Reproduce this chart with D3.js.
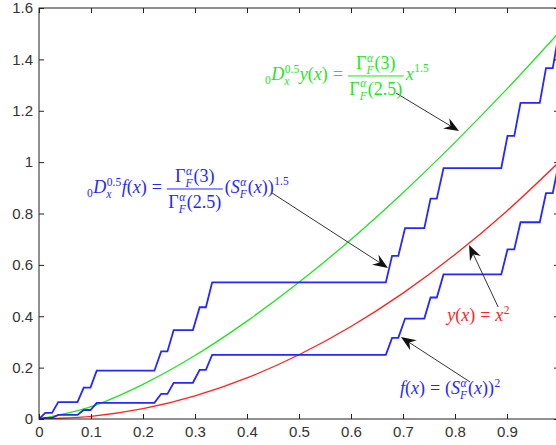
<!DOCTYPE html>
<html>
<head>
<meta charset="utf-8">
<script src="https://cdn.jsdelivr.net/npm/d3@7"></script>
<style>
  html, body { margin: 0; padding: 0; background: #fff; }
  svg { display: block; }
</style>
</head>
<body>
<svg id="chart" width="556" height="445"></svg>
<script>
// axis ticks (the label for x = 1 falls outside the picture)
const xTicks = [0, 0.1, 0.2, 0.3, 0.4, 0.5, 0.6, 0.7, 0.8, 0.9, 1];
const xTickLabels = ["0", "0.1", "0.2", "0.3", "0.4", "0.5", "0.6", "0.7", "0.8", "0.9", ""];
const yTicks = [0, 0.2, 0.4, 0.6, 0.8, 1, 1.2, 1.4, 1.6];
const yTickLabels = ["0", "0.2", "0.4", "0.6", "0.8", "1", "1.2", "1.4", "1.6"];

// smooth curves
const curveX = [0, 0.1, 0.2, 0.3, 0.4, 0.5, 0.6, 0.7, 0.8, 0.9, 1];
const redY = [0, 0.01, 0.04, 0.09, 0.16, 0.25, 0.36, 0.49, 0.64, 0.81, 1.0];
const greenY = [0, 0.048, 0.135, 0.247, 0.381, 0.532, 0.699, 0.881, 1.077, 1.285, 1.505];

// staircases: flat pieces (start, end) and their heights
const stepStart = [0.012, 0.037, 0.086, 0.111, 0.235, 0.259, 0.309, 0.333, 0.679, 0.704, 0.753, 0.778, 0.901, 0.926, 0.975];
const stepEnd   = [0.025, 0.074, 0.099, 0.222, 0.247, 0.296, 0.321, 0.667, 0.691, 0.741, 0.765, 0.889, 0.914, 0.963, 0.988];
const upperStepY = [0.024, 0.066, 0.122, 0.188, 0.263, 0.346, 0.435, 0.532, 0.635, 0.743, 0.858, 0.977, 1.102, 1.231, 1.366];
const lowerStepY = [0.004, 0.016, 0.035, 0.063, 0.098, 0.141, 0.191, 0.25, 0.316, 0.391, 0.473, 0.563, 0.66, 0.766, 0.879];
const upperEnd = 1.505;
const lowerEnd = 1.0;

// annotation arrows in data units
const arrows = [
  { from: [0.6865, 1.269], to: [0.8077, 1.121] },
  { from: [0.448, 0.880], to: [0.671, 0.588] },
  { from: [0.883, 0.436], to: [0.827, 0.677] },
  { from: [0.829, 0.144], to: [0.696, 0.319] },
];

const svg = d3.select("#chart");
const x = d3.scaleLinear().domain([0, 1]).range([39, 559]);
const y = d3.scaleLinear().domain([0, 1.6]).range([419, 8]);

const blue = "#2626ff";
const green = "#1ee61e";
const red = "#ff2222";
const ink = "#222";

svg.append("defs").append("clipPath").attr("id", "plot")
  .append("rect")
  .attr("x", x(0)).attr("y", y(1.6))
  .attr("width", x(1) - x(0)).attr("height", y(0) - y(1.6));

const plot = svg.append("g").attr("clip-path", "url(#plot)");

const line = d3.line().x((d) => x(d[0])).y((d) => y(d[1]));
const smooth = d3.line().x((d) => x(d[0])).y((d) => y(d[1])).curve(d3.curveMonotoneX);

plot.append("path")
  .attr("d", smooth(curveX.map((v, i) => [v, greenY[i]])))
  .attr("fill", "none").attr("stroke", green).attr("stroke-width", 1.3);

plot.append("path")
  .attr("d", smooth(curveX.map((v, i) => [v, redY[i]])))
  .attr("fill", "none").attr("stroke", red).attr("stroke-width", 1.3);

function stairs(heights, endY) {
  const pts = [[0, 0]];
  stepStart.forEach((s, i) => {
    pts.push([s, heights[i]], [stepEnd[i], heights[i]]);
  });
  pts.push([1, endY]);
  return pts;
}

[stairs(upperStepY, upperEnd), stairs(lowerStepY, lowerEnd)].forEach((pts) => {
  plot.append("path")
    .attr("d", line(pts))
    .attr("fill", "none").attr("stroke", blue).attr("stroke-width", 1.8)
    .attr("stroke-linejoin", "miter");
});

// axes box with inward ticks
const tickFont = (g) => g.selectAll("text")
  .attr("font-family", "Liberation Sans, Arial, sans-serif")
  .attr("font-size", 15).attr("fill", "#333");

const styleAxis = (g) => {
  g.select(".domain").remove();
  g.selectAll(".tick line").attr("stroke", ink);
};

svg.append("g").attr("transform", `translate(0,${y(0)})`)
  .call(d3.axisBottom(x).tickValues(xTicks).tickFormat((d, i) => xTickLabels[i])
    .tickSizeInner(-5).tickSizeOuter(0).tickPadding(7))
  .call(styleAxis).call(tickFont);

svg.append("g").attr("transform", `translate(${x(0)},0)`)
  .call(d3.axisLeft(y).tickValues(yTicks).tickFormat((d, i) => yTickLabels[i])
    .tickSizeInner(-5).tickSizeOuter(0).tickPadding(6))
  .call(styleAxis).call(tickFont);

svg.append("g").attr("transform", `translate(0,${y(1.6)})`)
  .call(d3.axisTop(x).tickValues(xTicks).tickFormat("").tickSizeInner(-5).tickSizeOuter(0))
  .call(styleAxis);

svg.append("g").attr("transform", `translate(${x(1)},0)`)
  .call(d3.axisRight(y).tickValues(yTicks).tickFormat("").tickSizeInner(-5).tickSizeOuter(0))
  .call(styleAxis);

svg.append("rect")
  .attr("x", x(0)).attr("y", y(1.6))
  .attr("width", x(1) - x(0)).attr("height", y(0) - y(1.6))
  .attr("fill", "none").attr("stroke", ink).attr("stroke-width", 1);

// arrows
arrows.forEach((a) => {
  const x1 = x(a.from[0]), y1 = y(a.from[1]);
  const x2 = x(a.to[0]), y2 = y(a.to[1]);
  const ang = Math.atan2(y2 - y1, x2 - x1);
  const back = 10;
  svg.append("line")
    .attr("x1", x1).attr("y1", y1)
    .attr("x2", x2 - back * Math.cos(ang)).attr("y2", y2 - back * Math.sin(ang))
    .attr("stroke", "#333").attr("stroke-width", 1);
  svg.append("path")
    .attr("d", "M0,0 L-15,-6 L-10,0 L-15,6 Z")
    .attr("transform", `translate(${x2},${y2}) rotate(${ang * 180 / Math.PI})`)
    .attr("fill", "#111");
});

// little math typesetter for the labels
const mathFont = "Liberation Serif, Times New Roman, serif";

function put(g, str, x0, y0, size, italic) {
  const t = g.append("text")
    .attr("x", x0).attr("y", y0)
    .attr("font-family", mathFont)
    .attr("font-size", size)
    .attr("font-style", italic ? "italic" : "normal")
    .text(str);
  return t.node().getComputedTextLength();
}

function token(g, tok, x0, y0, size) {
  const [kind, a, b] = tok;
  const small = size * 0.64;
  if (kind === "i" || kind === "r") return put(g, a, x0, y0, size, kind === "i");
  if (kind === "sp") return a;
  if (kind === "sup") return put(g, a, x0 + 0.5, y0 - size * 0.42, small, false) + 1;
  if (kind === "sub") return put(g, a, x0, y0 + size * 0.22, small, false) + 0.5;
  if (kind === "ss") {
    const w1 = put(g, a, x0 + 0.5, y0 - size * 0.4, small, /[a-zα]/.test(a));
    const w2 = put(g, b, x0, y0 + size * 0.28, small, true);
    return Math.max(w1, w2) + 1;
  }
  if (kind === "frac") {
    const num = g.append("g"), den = g.append("g");
    let wn = 0, wd = 0;
    a.forEach((t) => { wn += token(num, t, wn, 0, size); });
    b.forEach((t) => { wd += token(den, t, wd, 0, size); });
    const w = Math.max(wn, wd) + 3;
    num.attr("transform", `translate(${x0 + (w - wn) / 2},${y0 - size * 0.6})`);
    den.attr("transform", `translate(${x0 + (w - wd) / 2},${y0 + size * 0.82})`);
    g.append("line")
      .attr("x1", x0).attr("x2", x0 + w)
      .attr("y1", y0 - size * 0.22).attr("y2", y0 - size * 0.22)
      .attr("stroke", "currentColor").attr("stroke-width", 1);
    return w + 2;
  }
  return 0;
}

function mathLabel(pos, color, tokens, size) {
  const g = svg.append("g")
    .attr("transform", `translate(${x(pos[0])},${y(pos[1])})`)
    .attr("fill", color).style("color", color);
  let cx = 0;
  tokens.forEach((t) => { cx += token(g, t, cx, 0, size); });
}

const gammaFrac = ["frac",
  [["r", "Γ"], ["ss", "α", "F"], ["r", "(3)"]],
  [["r", "Γ"], ["ss", "α", "F"], ["r", "(2.5)"]]];

mathLabel([0.4346, 1.32], green, [
  ["sub", "0"], ["i", "D"], ["ss", "0.5", "x"], ["i", "y"], ["r", "("], ["i", "x"], ["r", ")"],
  ["sp", 5], ["r", "="], ["sp", 5], gammaFrac, ["i", "x"], ["sup", "1.5"],
], 18);

mathLabel([0.0923, 0.88], blue, [
  ["sub", "0"], ["i", "D"], ["ss", "0.5", "x"], ["i", "f"], ["r", "("], ["i", "x"], ["r", ")"],
  ["sp", 5], ["r", "="], ["sp", 5], gammaFrac,
  ["r", "("], ["i", "S"], ["ss", "α", "F"], ["r", "("], ["i", "x"], ["r", "))"], ["sup", "1.5"],
], 18);

mathLabel([0.785, 0.381], red, [
  ["i", "y"], ["r", "("], ["i", "x"], ["r", ")"], ["sp", 5], ["r", "="], ["sp", 5], ["i", "x"], ["sup", "2"],
], 18);

mathLabel([0.694, 0.097], blue, [
  ["i", "f"], ["r", "("], ["i", "x"], ["r", ")"], ["sp", 5], ["r", "="], ["sp", 5],
  ["r", "("], ["i", "S"], ["ss", "α", "F"], ["r", "("], ["i", "x"], ["r", "))"], ["sup", "2"],
], 18);
</script>
</body>
</html>
